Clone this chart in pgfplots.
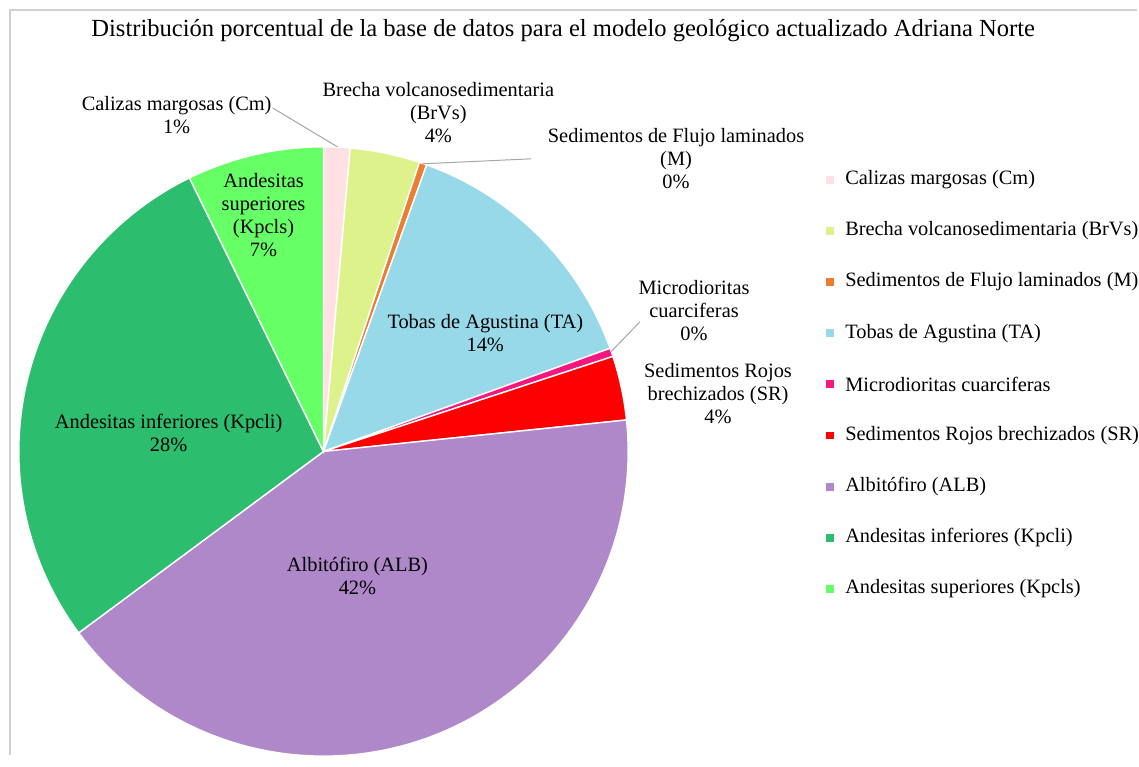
\documentclass[border=0pt]{standalone}
\usepackage{pgfplots}
\pgfplotsset{compat=1.18}
\usepackage{fontspec}
\setmainfont{Liberation Serif}
\definecolor{cCm}{HTML}{FFE1E3}
\definecolor{cBrVs}{HTML}{DDF28A}
\definecolor{cM}{HTML}{ED7D31}
\definecolor{cTA}{HTML}{98D9E9}
\definecolor{cMi}{HTML}{F5167F}
\definecolor{cSR}{HTML}{FF0000}
\definecolor{cALB}{HTML}{AE88C8}
\definecolor{cKi}{HTML}{2DBD6E}
\definecolor{cKs}{HTML}{66FF66}
\definecolor{lead}{HTML}{A6A6A6}
\newcommand\lbl{\fontsize{10.2}{11.5}\selectfont}
% slice: start cumulative %, end cumulative %, colour
\newcommand\slice[3]{\fill[#3, draw=white, line width=0.7pt] (axis cs:323,452) -- ++({90-3.6*#1}:152.5pt) arc[start angle={90-3.6*#1}, end angle={90-3.6*#2}, radius=152.5pt] -- cycle;}
\newcommand\legitem[3]{\fill[#2] (axis cs:830,#1) ++(-2pt,-2pt) rectangle ++(4pt,4pt); \node[anchor=west, font=\lbl, inner sep=0pt] at (axis cs:845,#1) {#3};}
\begin{document}
\begin{tikzpicture}
\begin{axis}[
  scale only axis, width=569.5pt, height=379pt,
  xmin=0, xmax=1139, ymin=0, ymax=758, y dir=reverse,
  hide axis, clip=false]
\path (axis cs:0,0) rectangle (axis cs:1139,758);
% percentages: Cm 1.4, BrVs 3.7, M 0.4, TA 14.0, Mi 0.45, SR 3.4, ALB 41.5, Kpcli 27.9, Kpcls 7.25
\slice{0}{1.4}{cCm}
\slice{1.4}{5.1}{cBrVs}
\slice{5.1}{5.5}{cM}
\slice{5.5}{19.5}{cTA}
\slice{19.5}{19.95}{cMi}
\slice{19.95}{23.35}{cSR}
\slice{23.35}{64.85}{cALB}
\slice{64.85}{92.75}{cKi}
\slice{92.75}{100}{cKs}
% frame
\draw[black!18, line width=1.2pt] (axis cs:9,756) -- (axis cs:9,10) -- (axis cs:1137,10);
% title
\node[font=\fontsize{12.3}{14}\selectfont] at (axis cs:563,31) {Distribución porcentual de la base de datos para el modelo geológico actualizado Adriana Norte};
% leader lines
\draw[lead, line width=0.5pt] (axis cs:272,108) -- (axis cs:337,147);
\draw[lead, line width=0.5pt] (axis cs:531,159) -- (axis cs:422,164);
\draw[lead, line width=0.5pt] (axis cs:640,322) -- (axis cs:611,352);
% data labels
\node[align=center, font=\lbl] at (axis cs:176,115.5) {Calizas margosas (Cm)\\1\%};
\node[align=center, font=\lbl] at (axis cs:438,112.5) {Brecha volcanosedimentaria\\(BrVs)\\4\%};
\node[align=center, font=\lbl] at (axis cs:676,158.5) {Sedimentos de Flujo laminados\\(M)\\0\%};
\node[align=center, font=\lbl] at (axis cs:485,333.5) {Tobas de Agustina (TA)\\14\%};
\node[align=center, font=\lbl] at (axis cs:694,311) {Microdioritas\\cuarciferas\\0\%};
\node[align=center, font=\lbl] at (axis cs:718,394) {Sedimentos Rojos\\brechizados (SR)\\4\%};
\node[align=center, font=\lbl] at (axis cs:357,576.5) {Albitófiro (ALB)\\42\%};
\node[align=center, font=\lbl] at (axis cs:168,433.5) {Andesitas inferiores (Kpcli)\\28\%};
\node[align=center, font=\lbl] at (axis cs:263,215.5) {Andesitas\\superiores\\(Kpcls)\\7\%};
% legend
\legitem{180}{cCm}{Calizas margosas (Cm)}
\legitem{231.2}{cBrVs}{Brecha volcanosedimentaria (BrVs)}
\legitem{282.4}{cM}{Sedimentos de Flujo laminados (M)}
\legitem{333.6}{cTA}{Tobas de Agustina (TA)}
\legitem{384.8}{cMi}{Microdioritas cuarciferas}
\legitem{436}{cSR}{Sedimentos Rojos brechizados (SR)}
\legitem{487.2}{cALB}{Albitófiro (ALB)}
\legitem{538.4}{cKi}{Andesitas inferiores (Kpcli)}
\legitem{589.6}{cKs}{Andesitas superiores (Kpcls)}
\end{axis}
\end{tikzpicture}
\end{document}
